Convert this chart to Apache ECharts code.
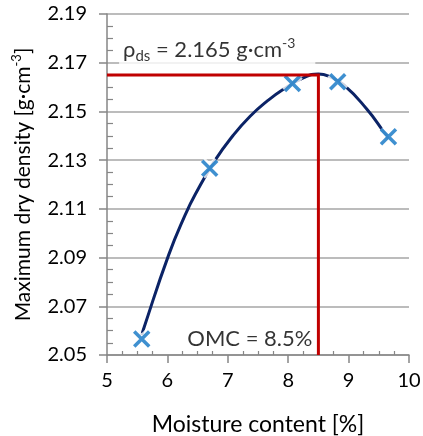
<!DOCTYPE html>
<html><head><meta charset="utf-8">
<script src="https://cdn.jsdelivr.net/npm/echarts@6/dist/echarts.min.js"></script>
<style>html,body{margin:0;padding:0;background:#fff}#c{width:423px;height:436px}</style>
</head><body><div id="c"></div>
<script>
// measured points
const moisture = [5.575, 6.70, 8.07, 8.82, 9.66];
const density = [2.0566, 2.1267, 2.1615, 2.1622, 2.1396];
// fitted curve
const fitX = [5.575, 5.60, 6.02, 6.30, 6.46, 6.79, 7.09, 7.37, 7.65, 7.92, 8.25, 8.50, 8.67, 8.92, 9.30, 9.58, 9.66];
const fitY = [2.0582, 2.0603, 2.0910, 2.1078, 2.1159, 2.1300, 2.1402, 2.1480, 2.1542, 2.1591, 2.1638, 2.1654, 2.1645, 2.1609, 2.1510, 2.1417, 2.1388];
// OMC / max density guide
const omc = 8.5;
const rhoMax = 2.165;
const xRange = [5, 10];
const yRange = [2.05, 2.19];
const xStep = 1, yStep = 0.02;
// annotation anchors (data coords)
const rhoLabelAt = [5.2, 2.1752];
const omcLabelAt = [6.33, 2.0566];

const FONT = 'Lato';
const axisGray = '#868686';
const gridGray = '#a6a6a6';

const chart = echarts.init(document.getElementById('c'), null, {renderer: 'canvas'});

const xBase = {
  type: 'value', min: xRange[0], max: xRange[1], gridIndex: 0, position: 'bottom'
};
const yBase = {
  type: 'value', min: yRange[0], max: yRange[1], gridIndex: 0, position: 'left'
};

chart.setOption({
  animation: false,
  backgroundColor: '#fff',
  grid: {left: 107, right: 14, top: 14, bottom: 81, containLabel: false, outerBoundsMode: 'none'},
  xAxis: [
    Object.assign({}, xBase, {
      interval: xStep,
      axisLine: {lineStyle: {color: axisGray, width: 1.5}},
      axisTick: {show: true, length: 8, lineStyle: {color: axisGray, width: 1.5}},
      axisLabel: {fontSize: 20, fontFamily: FONT, color: '#000', margin: 16},
      splitLine: {show: false},
      name: 'Moisture content [%]', nameLocation: 'middle', nameGap: 58,
      nameTextStyle: {fontSize: 23, fontFamily: FONT, color: '#000'}
    }),
    Object.assign({}, xBase, {
      interval: xStep,
      axisLine: {show: false},
      axisTick: {show: false, inside: true},
      minorTick: {show: true, splitNumber: 4, length: 4, lineStyle: {color: axisGray, width: 1.2}},
      axisLabel: {show: false},
      splitLine: {show: false}
    })
  ],
  yAxis: [
    Object.assign({}, yBase, {
      interval: yStep,
      axisLine: {show: true, lineStyle: {color: axisGray, width: 1.5}},
      axisTick: {show: true, length: 8, lineStyle: {color: axisGray, width: 1.5}},
      axisLabel: {fontSize: 20, fontFamily: FONT, color: '#000', margin: 20,
        formatter: v => v.toFixed(2)},
      splitLine: {show: true, lineStyle: {color: gridGray, width: 1.5}},
      name: '{a|Maximum dry density [g·cm}{b|-3}{a|]}', nameLocation: 'middle', nameGap: 71,
      nameTextStyle: {fontFamily: FONT, color: '#000',
        rich: {
          a: {fontSize: 21, fontFamily: FONT, color: '#000', lineHeight: 26},
          b: {fontSize: 13, fontFamily: FONT, color: '#000', lineHeight: 15, verticalAlign: 'top'}
        }}
    }),
    Object.assign({}, yBase, {
      interval: yStep,
      axisLine: {show: false},
      axisTick: {show: false, inside: true},
      minorTick: {show: true, splitNumber: 4, length: 6, lineStyle: {color: axisGray, width: 1.2}},
      axisLabel: {show: false},
      splitLine: {show: false}
    })
  ],
  series: [
    {
      name: 'fit', type: 'line', smooth: 0.5, symbol: 'none',
      data: fitX.map((x, i) => [x, fitY[i]]),
      lineStyle: {color: '#0b2366', width: 3}, z: 2
    },
    {
      name: 'markerHalo', type: 'scatter',
      symbol: 'path://M0,0L10,10M10,0L0,10', symbolSize: 15,
      data: moisture.map((x, i) => [x, density[i]]),
      itemStyle: {color: 'rgba(0,0,0,0)', borderColor: '#fff', borderWidth: 8}, z: 3
    },
    {
      name: 'points', type: 'scatter',
      symbol: 'path://M0,0L10,10M10,0L0,10', symbolSize: 15,
      data: moisture.map((x, i) => [x, density[i]]),
      itemStyle: {color: 'rgba(0,0,0,0)', borderColor: '#0f74c4', borderWidth: 3.5}, z: 4
    },
    {
      name: 'guide', type: 'line', symbol: 'none',
      data: [[xRange[0], rhoMax], [omc, rhoMax], [omc, yRange[0]]],
      lineStyle: {color: '#c00000', width: 3, join: 'miter'}, z: 5
    },
    {
      name: 'labels', type: 'scatter', symbolSize: 0, z: 6,
      data: [
        {value: rhoLabelAt, label: {
          show: true, position: 'right', distance: 0,
          formatter: '{r|ρ}{s|ds}{t| = 2.165 g·cm}{u|-3}',
          backgroundColor: '#fff', padding: [2, 20, 2, 4],
          rich: {
            r: {fontSize: 22, fontFamily: FONT, color: '#000', lineHeight: 28},
            s: {fontSize: 15, fontFamily: FONT, color: '#000', lineHeight: 18, verticalAlign: 'bottom'},
            t: {fontSize: 22, fontFamily: FONT, color: '#000', lineHeight: 28},
            u: {fontSize: 14, fontFamily: FONT, color: '#000', lineHeight: 16, verticalAlign: 'top'}
          }
        }},
        {value: omcLabelAt, label: {
          show: true, position: 'right', distance: 0,
          formatter: 'OMC = 8.5%', fontSize: 22, fontFamily: FONT, color: '#000'
        }}
      ]
    }
  ]
});
</script></body></html>
